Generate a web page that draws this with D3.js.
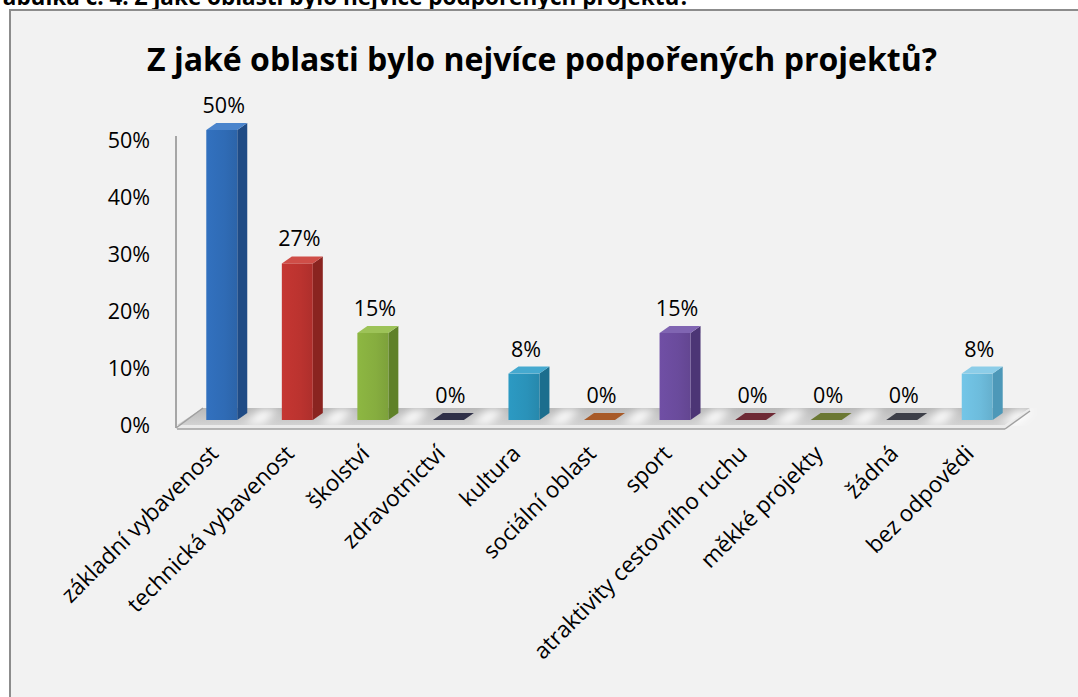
<!DOCTYPE html>
<html><head><meta charset="utf-8">
<script src="https://cdn.jsdelivr.net/npm/d3@7"></script>
<style>
html,body{margin:0;padding:0;background:#fff;overflow:hidden}
svg{display:block;font-family:"Open Sans",sans-serif}
</style></head>
<body>
<svg id="c" width="1078" height="697"></svg>
<script>
const caption = "Tabulka č. 4: Z jaké oblasti bylo nejvíce podpořených projektů?";
const title = "Z jaké oblasti bylo nejvíce podpořených projektů?";
const categories = ["základní vybavenost","technická vybavenost","školství","zdravotnictví","kultura","sociální oblast","sport","atraktivity cestovního ruchu","měkké projekty","žádná","bez odpovědi"];
const values = [0.50,0.27,0.15,0,0.08,0,0.15,0,0,0,0.08];
const yTicks = [0,0.1,0.2,0.3,0.4,0.5];
const frontColors = ["#2f6bb5","#bb332f","#86ad3f","#2f3048","#2a92b9","#a85a28","#6a4b9c","#6e2a35","#6b7833","#3d3f48","#6dbcdc"];
const sideColors  = ["#1f4b85","#8a2420","#5f8128","#22233a","#1c6e8e","#7d421c","#4c3575","#521f28","#4f5926","#2c2e36","#4d98b8"];
const topColors   = ["#4a84cc","#cf4d47","#9dc358","#2f3048","#45a9cf","#a85a28","#8065b2","#6e2a35","#6b7833","#3d3f48","#8ccde8"];

const svg = d3.select("#c");
const W = 1078, H = 697;
const DX = 10, DY = -7;

// page caption (cut off at top, as in the source page)
svg.append("text").attr("x", 690).attr("y", 5).attr("text-anchor","end")
  .attr("font-weight","bold").attr("font-size",22.5).attr("fill","#000").text(caption);

// chart frame
svg.append("rect").attr("x",10).attr("y",10).attr("width",W+10).attr("height",H+10)
  .attr("fill","#f2f2f2").attr("stroke","#8c8c8c").attr("stroke-width",2);

// title fitted to width
const t = svg.append("text").attr("x",542).attr("y",71).attr("text-anchor","middle")
  .attr("font-weight","bold").attr("font-size",28).attr("fill","#000").text(title);
const tw = t.node().getComputedTextLength();
t.attr("font-size", 28*790/tw);

const x = d3.scaleBand().domain(categories).range([184,1015]).paddingInner(0.59).paddingOuter(0.295);
const yBar = d3.scaleLinear().domain([0,0.5]).range([420,130]);
const yAxis = d3.scaleLinear().domain([0,0.5]).range([425,140]);
const bw = x.bandwidth();

// axis labels
const ax = svg.append("g").attr("transform","translate(150,0)")
  .call(d3.axisLeft(yAxis).tickValues(yTicks).tickFormat(d3.format(".0%")).tickSize(0).tickPadding(0));
ax.select(".domain").remove();
ax.selectAll("text").attr("font-size",21.5).attr("font-family","Open Sans").attr("fill","#000").attr("dy","0.35em");

// defs
const defs = svg.append("defs");
defs.append("filter").attr("id","blur").append("feGaussianBlur").attr("stdDeviation",4);
const fg = defs.append("linearGradient").attr("id","floorG").attr("x1",0).attr("y1",0).attr("x2",0).attr("y2",1);
fg.append("stop").attr("offset",0).attr("stop-color","#b9b9b9");
fg.append("stop").attr("offset",1).attr("stop-color","#d2d2d2");
categories.forEach((c,i)=>{
  const g = defs.append("linearGradient").attr("id","fr"+i).attr("x1",0).attr("x2",1).attr("y1",0).attr("y2",0);
  g.append("stop").attr("offset",0).attr("stop-color",d3.color(frontColors[i]).brighter(0.15));
  g.append("stop").attr("offset",0.6).attr("stop-color",frontColors[i]);
  g.append("stop").attr("offset",1).attr("stop-color",d3.color(frontColors[i]).darker(0.2));
});

// wall line
svg.append("line").attr("x1",176).attr("x2",176).attr("y1",136).attr("y2",428)
  .attr("stroke","#a6a6a6").attr("stroke-width",2);

// floor
const fBackY = 408, fFrontY = 425;
svg.append("polygon").attr("points",[[203,fBackY],[1030,fBackY],[1005,fFrontY],[177,fFrontY]].map(p=>p.join(",")).join(" "))
  .attr("fill","url(#floorG)");
const gaps = svg.append("g").attr("filter","url(#blur)");
categories.forEach((c,i)=>{
  const gx = x(c) + bw + DX + (x.step()-bw-DX)/2;
  gaps.append("polygon").attr("points",[[gx-4,fBackY+2],[gx+14,fBackY+2],[gx-2,fFrontY-1],[gx-20,fFrontY-1]].map(p=>p.join(",")).join(" "))
    .attr("fill","#ffffff").attr("opacity",0.95);
});
svg.append("polygon").attr("points",[[177,fFrontY],[1005,fFrontY],[1030,fBackY],[1030,fBackY+3],[1005,fFrontY+4],[177,fFrontY+4]].map(p=>p.join(",")).join(" "))
  .attr("fill","#ebebeb");
svg.append("line").attr("x1",177).attr("x2",1005).attr("y1",fFrontY+4).attr("y2",fFrontY+4).attr("stroke","#a0a0a0").attr("stroke-width",1.5);
svg.append("line").attr("x1",1005).attr("x2",1030).attr("y1",fFrontY+4).attr("y2",fBackY+3).attr("stroke","#a0a0a0").attr("stroke-width",1.5);
svg.append("line").attr("x1",176).attr("x2",203).attr("y1",fFrontY+3).attr("y2",fBackY).attr("stroke","#a0a0a0").attr("stroke-width",1.5);

// bars
const bars = svg.append("g");
categories.forEach((c,i)=>{
  const v = values[i];
  const x0 = x(c), top = yBar(v), bot = yBar(0);
  const g = bars.append("g");
  if (v > 0) {
    g.append("polygon").attr("points",[[x0+bw,top],[x0+bw+DX,top+DY],[x0+bw+DX,bot+DY],[x0+bw,bot]].map(p=>p.join(",")).join(" "))
      .attr("fill",sideColors[i]);
    g.append("rect").attr("x",x0).attr("y",top).attr("width",bw).attr("height",bot-top).attr("fill","url(#fr"+i+")");
  }
  g.append("polygon").attr("points",[[x0,top],[x0+DX,top+DY],[x0+bw+DX,top+DY],[x0+bw,top]].map(p=>p.join(",")).join(" "))
    .attr("fill",topColors[i]);
  g.append("text").attr("x",x0+bw/2+2).attr("y",top-17).attr("text-anchor","middle")
    .attr("font-size",21.5).attr("fill","#000").text(d3.format(".0%")(v));
});

// x labels
categories.forEach((c)=>{
  const cx = x(c) + bw/2 - 2;
  svg.append("text").attr("transform",`translate(${cx},455) rotate(-45)`)
    .attr("text-anchor","end").attr("font-size",22.5).attr("fill","#000").text(c);
});
</script>
</body></html>
